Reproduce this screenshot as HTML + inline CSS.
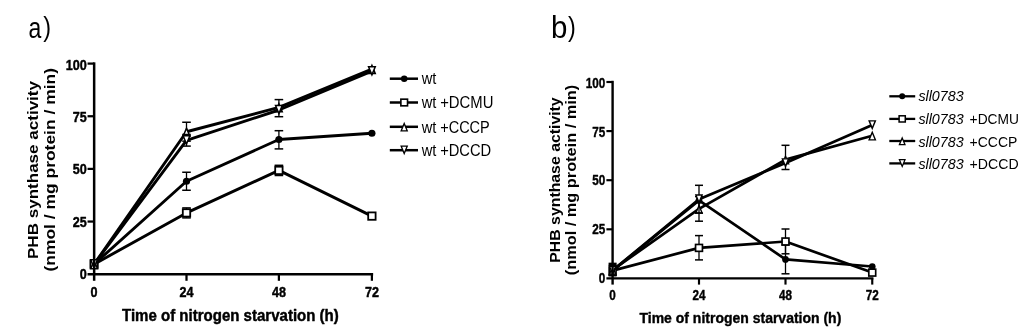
<!DOCTYPE html>
<html lang="en">
<head>
<meta charset="utf-8">
<title>PHB synthase activity</title>
<style>
html,body{margin:0;padding:0;background:#fff;}
body{width:1024px;height:336px;overflow:hidden;}
svg{display:block;}
svg text{font-family:"Liberation Sans", Arial, Helvetica, sans-serif;fill:#000;}
</style>
</head>
<body>
<svg width="1024" height="336" viewBox="0 0 1024 336">
<rect x="0" y="0" width="1024" height="336" fill="#fff"/>
<g id="panel-a">
<g><line x1="186.5" y1="172.25" x2="186.5" y2="190.25" stroke="#000" stroke-width="1.3" stroke-linecap="butt"/><line x1="182.2" y1="172.25" x2="190.8" y2="172.25" stroke="#000" stroke-width="1.5" stroke-linecap="butt"/><line x1="182.2" y1="190.25" x2="190.8" y2="190.25" stroke="#000" stroke-width="1.5" stroke-linecap="butt"/><line x1="278.9" y1="130.7" x2="278.9" y2="148.9" stroke="#000" stroke-width="1.3" stroke-linecap="butt"/><line x1="274.59999999999997" y1="130.7" x2="283.2" y2="130.7" stroke="#000" stroke-width="1.5" stroke-linecap="butt"/><line x1="274.59999999999997" y1="148.9" x2="283.2" y2="148.9" stroke="#000" stroke-width="1.5" stroke-linecap="butt"/><polyline points="94.1,264.2 186.5,181.25 278.9,139.5 371.9,133.25" fill="none" stroke="#000" stroke-width="2.9" stroke-linejoin="round"/><circle cx="94.1" cy="264.2" r="3.60" fill="#000"/><circle cx="186.5" cy="181.25" r="3.60" fill="#000"/><circle cx="278.9" cy="139.5" r="3.60" fill="#000"/><circle cx="371.9" cy="133.25" r="3.60" fill="#000"/></g>
<g><line x1="186.5" y1="207.9" x2="186.5" y2="217.9" stroke="#000" stroke-width="1.3" stroke-linecap="butt"/><line x1="182.2" y1="207.9" x2="190.8" y2="207.9" stroke="#000" stroke-width="1.5" stroke-linecap="butt"/><line x1="182.2" y1="217.9" x2="190.8" y2="217.9" stroke="#000" stroke-width="1.5" stroke-linecap="butt"/><line x1="278.9" y1="165.3" x2="278.9" y2="175.5" stroke="#000" stroke-width="1.3" stroke-linecap="butt"/><line x1="274.59999999999997" y1="165.3" x2="283.2" y2="165.3" stroke="#000" stroke-width="1.5" stroke-linecap="butt"/><line x1="274.59999999999997" y1="175.5" x2="283.2" y2="175.5" stroke="#000" stroke-width="1.5" stroke-linecap="butt"/><polyline points="94.1,264.2 186.5,212.9 278.9,170.4 371.9,216.1" fill="none" stroke="#000" stroke-width="2.9" stroke-linejoin="round"/><rect x="90.40" y="260.50" width="7.40" height="7.40" fill="#fff" stroke="#000" stroke-width="1.80"/><rect x="182.80" y="209.20" width="7.40" height="7.40" fill="#fff" stroke="#000" stroke-width="1.80"/><rect x="275.20" y="166.70" width="7.40" height="7.40" fill="#fff" stroke="#000" stroke-width="1.80"/><rect x="368.20" y="212.40" width="7.40" height="7.40" fill="#fff" stroke="#000" stroke-width="1.80"/></g>
<g><line x1="186.5" y1="122.25" x2="186.5" y2="141.15" stroke="#000" stroke-width="1.3" stroke-linecap="butt"/><line x1="182.2" y1="122.25" x2="190.8" y2="122.25" stroke="#000" stroke-width="1.5" stroke-linecap="butt"/><line x1="182.2" y1="141.15" x2="190.8" y2="141.15" stroke="#000" stroke-width="1.5" stroke-linecap="butt"/><line x1="278.9" y1="99.60000000000001" x2="278.9" y2="116.7" stroke="#000" stroke-width="1.3" stroke-linecap="butt"/><line x1="274.59999999999997" y1="99.60000000000001" x2="283.2" y2="99.60000000000001" stroke="#000" stroke-width="1.5" stroke-linecap="butt"/><line x1="274.59999999999997" y1="116.7" x2="283.2" y2="116.7" stroke="#000" stroke-width="1.5" stroke-linecap="butt"/><polyline points="94.1,264.2 186.5,131.75 278.9,107.4 371.9,69.0" fill="none" stroke="#000" stroke-width="2.9" stroke-linejoin="round"/><polygon points="94.10,260.55 97.45,268.65 90.75,268.65" fill="#fff" stroke="#000" stroke-width="1.50" stroke-linejoin="miter"/><polygon points="186.50,128.10 189.85,136.20 183.15,136.20" fill="#fff" stroke="#000" stroke-width="1.50" stroke-linejoin="miter"/><polygon points="278.90,103.75 282.25,111.85 275.55,111.85" fill="#fff" stroke="#000" stroke-width="1.50" stroke-linejoin="miter"/><polygon points="371.90,65.35 375.25,73.45 368.55,73.45" fill="#fff" stroke="#000" stroke-width="1.50" stroke-linejoin="miter"/></g>
<g><line x1="186.5" y1="134.5" x2="186.5" y2="146.10000000000002" stroke="#000" stroke-width="1.3" stroke-linecap="butt"/><line x1="182.2" y1="134.5" x2="190.8" y2="134.5" stroke="#000" stroke-width="1.5" stroke-linecap="butt"/><line x1="182.2" y1="146.10000000000002" x2="190.8" y2="146.10000000000002" stroke="#000" stroke-width="1.5" stroke-linecap="butt"/><polyline points="94.1,264.2 186.5,140.3 278.9,110.0 371.9,71.2" fill="none" stroke="#000" stroke-width="2.9" stroke-linejoin="round"/><polygon points="94.10,267.85 97.45,259.75 90.75,259.75" fill="#fff" stroke="#000" stroke-width="1.50" stroke-linejoin="miter"/><polygon points="186.50,143.95 189.85,135.85 183.15,135.85" fill="#fff" stroke="#000" stroke-width="1.50" stroke-linejoin="miter"/><polygon points="278.90,113.65 282.25,105.55 275.55,105.55" fill="#fff" stroke="#000" stroke-width="1.50" stroke-linejoin="miter"/><polygon points="371.90,74.85 375.25,66.75 368.55,66.75" fill="#fff" stroke="#000" stroke-width="1.50" stroke-linejoin="miter"/></g>
<line x1="94.15" y1="62.35" x2="94.15" y2="280.8" stroke="#000" stroke-width="2.5" stroke-linecap="butt"/>
<line x1="87.55000000000001" y1="274.2" x2="373.15" y2="274.2" stroke="#000" stroke-width="2.5" stroke-linecap="butt"/>
<line x1="87.55000000000001" y1="63.599999999999994" x2="94.15" y2="63.599999999999994" stroke="#000" stroke-width="2.25" stroke-linecap="butt"/>
<text x="86.8" y="69.55" font-size="15.1" font-weight="bold" text-anchor="end" textLength="21.0" lengthAdjust="spacingAndGlyphs" stroke="#000" stroke-width="0.45" stroke-linejoin="round">100</text>
<line x1="87.55000000000001" y1="116.25" x2="94.15" y2="116.25" stroke="#000" stroke-width="2.25" stroke-linecap="butt"/>
<text x="86.8" y="121.88" font-size="15.1" font-weight="bold" text-anchor="end" textLength="14.0" lengthAdjust="spacingAndGlyphs" stroke="#000" stroke-width="0.45" stroke-linejoin="round">75</text>
<line x1="87.55000000000001" y1="168.89999999999998" x2="94.15" y2="168.89999999999998" stroke="#000" stroke-width="2.25" stroke-linecap="butt"/>
<text x="86.8" y="174.2" font-size="15.1" font-weight="bold" text-anchor="end" textLength="14.0" lengthAdjust="spacingAndGlyphs" stroke="#000" stroke-width="0.45" stroke-linejoin="round">50</text>
<line x1="87.55000000000001" y1="221.54999999999998" x2="94.15" y2="221.54999999999998" stroke="#000" stroke-width="2.25" stroke-linecap="butt"/>
<text x="86.8" y="226.52" font-size="15.1" font-weight="bold" text-anchor="end" textLength="14.0" lengthAdjust="spacingAndGlyphs" stroke="#000" stroke-width="0.45" stroke-linejoin="round">25</text>
<text x="86.8" y="278.85" font-size="15.1" font-weight="bold" text-anchor="end" textLength="7.0" lengthAdjust="spacingAndGlyphs" stroke="#000" stroke-width="0.45" stroke-linejoin="round">0</text>
<text x="94.1" y="297.0" font-size="15.1" font-weight="bold" text-anchor="middle" textLength="7.0" lengthAdjust="spacingAndGlyphs" stroke="#000" stroke-width="0.45" stroke-linejoin="round">0</text>
<line x1="186.5" y1="274.2" x2="186.5" y2="280.8" stroke="#000" stroke-width="2.25" stroke-linecap="butt"/>
<text x="186.5" y="297.0" font-size="15.1" font-weight="bold" text-anchor="middle" textLength="14.0" lengthAdjust="spacingAndGlyphs" stroke="#000" stroke-width="0.45" stroke-linejoin="round">24</text>
<line x1="278.9" y1="274.2" x2="278.9" y2="280.8" stroke="#000" stroke-width="2.25" stroke-linecap="butt"/>
<text x="278.9" y="297.0" font-size="15.1" font-weight="bold" text-anchor="middle" textLength="14.0" lengthAdjust="spacingAndGlyphs" stroke="#000" stroke-width="0.45" stroke-linejoin="round">48</text>
<line x1="371.9" y1="274.2" x2="371.9" y2="280.8" stroke="#000" stroke-width="2.25" stroke-linecap="butt"/>
<text x="371.9" y="297.0" font-size="15.1" font-weight="bold" text-anchor="middle" textLength="14.0" lengthAdjust="spacingAndGlyphs" stroke="#000" stroke-width="0.45" stroke-linejoin="round">72</text>
<text x="122.0" y="321.0" font-size="16.4" font-weight="bold" text-anchor="start" textLength="216.8" lengthAdjust="spacingAndGlyphs" stroke="#000" stroke-width="0.45" stroke-linejoin="round">Time of nitrogen starvation (h)</text>
<text x="37.5" y="259.0" font-size="14.9" font-weight="bold" text-anchor="start" textLength="178.0" lengthAdjust="spacingAndGlyphs" transform="rotate(-90 37.5 259.0)">PHB synthase activity</text>
<text x="55.2" y="271.5" font-size="14.9" font-weight="bold" text-anchor="start" textLength="203.5" lengthAdjust="spacingAndGlyphs" transform="rotate(-90 55.2 271.5)">(nmol / mg protein / min)</text>
<line x1="389.8" y1="78.7" x2="418.0" y2="78.7" stroke="#000" stroke-width="2.5" stroke-linecap="butt"/>
<circle cx="404.2" cy="78.7" r="3.24" fill="#000"/>
<text x="421.8" y="84.3" font-size="16" textLength="14.6" lengthAdjust="spacingAndGlyphs">wt</text>
<line x1="389.8" y1="102.5" x2="418.0" y2="102.5" stroke="#000" stroke-width="2.5" stroke-linecap="butt"/>
<rect x="400.87" y="99.17" width="6.66" height="6.66" fill="#fff" stroke="#000" stroke-width="1.62"/>
<text x="421.8" y="108.3" font-size="16" textLength="14.6" lengthAdjust="spacingAndGlyphs">wt</text>
<text x="440.2" y="108.3" font-size="16" textLength="53.2" lengthAdjust="spacingAndGlyphs">+DCMU</text>
<line x1="389.8" y1="126.8" x2="418.0" y2="126.8" stroke="#000" stroke-width="2.5" stroke-linecap="butt"/>
<polygon points="404.20,123.52 407.21,130.81 401.19,130.81" fill="#fff" stroke="#000" stroke-width="1.35" stroke-linejoin="miter"/>
<text x="421.8" y="132.5" font-size="16" textLength="14.6" lengthAdjust="spacingAndGlyphs">wt</text>
<text x="440.2" y="132.5" font-size="16" textLength="49.6" lengthAdjust="spacingAndGlyphs">+CCCP</text>
<line x1="389.8" y1="150.2" x2="418.0" y2="150.2" stroke="#000" stroke-width="2.5" stroke-linecap="butt"/>
<polygon points="404.20,153.48 407.21,146.19 401.19,146.19" fill="#fff" stroke="#000" stroke-width="1.35" stroke-linejoin="miter"/>
<text x="421.8" y="156.3" font-size="16" textLength="14.6" lengthAdjust="spacingAndGlyphs">wt</text>
<text x="440.2" y="156.3" font-size="16" textLength="51.0" lengthAdjust="spacingAndGlyphs">+DCCD</text>
<text transform="translate(28.4 38.0) scale(0.78 1)" font-size="29.5" stroke="#000" stroke-width="0">a</text>
<text transform="translate(43.3 36.0) scale(0.85 1)" font-size="27.6" stroke="#000" stroke-width="0">)</text>
</g>
<g id="panel-b">
<g><line x1="612.6" y1="265.6" x2="612.6" y2="275.1" stroke="#000" stroke-width="1.3" stroke-linecap="butt"/><line x1="608.601" y1="265.6" x2="616.599" y2="265.6" stroke="#000" stroke-width="1.5" stroke-linecap="butt"/><line x1="608.601" y1="275.1" x2="616.599" y2="275.1" stroke="#000" stroke-width="1.5" stroke-linecap="butt"/><line x1="785.5" y1="244.99999999999997" x2="785.5" y2="273.79999999999995" stroke="#000" stroke-width="1.3" stroke-linecap="butt"/><line x1="781.501" y1="244.99999999999997" x2="789.499" y2="244.99999999999997" stroke="#000" stroke-width="1.5" stroke-linecap="butt"/><line x1="781.501" y1="273.79999999999995" x2="789.499" y2="273.79999999999995" stroke="#000" stroke-width="1.5" stroke-linecap="butt"/><polyline points="612.6,270.6 699.0,200.4 785.5,259.4 872.25,266.5" fill="none" stroke="#000" stroke-width="2.7" stroke-linejoin="round"/><circle cx="612.6" cy="270.6" r="3.35" fill="#000"/><circle cx="699.0" cy="200.4" r="3.35" fill="#000"/><circle cx="785.5" cy="259.4" r="3.35" fill="#000"/><circle cx="872.25" cy="266.5" r="3.35" fill="#000"/></g>
<g><line x1="612.6" y1="264.6" x2="612.6" y2="275.6" stroke="#000" stroke-width="1.3" stroke-linecap="butt"/><line x1="608.601" y1="264.6" x2="616.599" y2="264.6" stroke="#000" stroke-width="1.5" stroke-linecap="butt"/><line x1="608.601" y1="275.6" x2="616.599" y2="275.6" stroke="#000" stroke-width="1.5" stroke-linecap="butt"/><line x1="699.0" y1="235.6" x2="699.0" y2="259.9" stroke="#000" stroke-width="1.3" stroke-linecap="butt"/><line x1="695.001" y1="235.6" x2="702.999" y2="235.6" stroke="#000" stroke-width="1.5" stroke-linecap="butt"/><line x1="695.001" y1="259.9" x2="702.999" y2="259.9" stroke="#000" stroke-width="1.5" stroke-linecap="butt"/><line x1="785.5" y1="229.0" x2="785.5" y2="253.8" stroke="#000" stroke-width="1.3" stroke-linecap="butt"/><line x1="781.501" y1="229.0" x2="789.499" y2="229.0" stroke="#000" stroke-width="1.5" stroke-linecap="butt"/><line x1="781.501" y1="253.8" x2="789.499" y2="253.8" stroke="#000" stroke-width="1.5" stroke-linecap="butt"/><polyline points="612.6,270.6 699.0,247.9 785.5,241.5 872.25,272.6" fill="none" stroke="#000" stroke-width="2.7" stroke-linejoin="round"/><rect x="609.16" y="267.16" width="6.88" height="6.88" fill="#fff" stroke="#000" stroke-width="1.67"/><rect x="695.56" y="244.46" width="6.88" height="6.88" fill="#fff" stroke="#000" stroke-width="1.67"/><rect x="782.06" y="238.06" width="6.88" height="6.88" fill="#fff" stroke="#000" stroke-width="1.67"/><rect x="868.81" y="269.16" width="6.88" height="6.88" fill="#fff" stroke="#000" stroke-width="1.67"/></g>
<g><line x1="699.0" y1="196.6" x2="699.0" y2="221.20000000000002" stroke="#000" stroke-width="1.3" stroke-linecap="butt"/><line x1="695.001" y1="196.6" x2="702.999" y2="196.6" stroke="#000" stroke-width="1.5" stroke-linecap="butt"/><line x1="695.001" y1="221.20000000000002" x2="702.999" y2="221.20000000000002" stroke="#000" stroke-width="1.5" stroke-linecap="butt"/><line x1="785.5" y1="145.29999999999998" x2="785.5" y2="169.5" stroke="#000" stroke-width="1.3" stroke-linecap="butt"/><line x1="781.501" y1="145.29999999999998" x2="789.499" y2="145.29999999999998" stroke="#000" stroke-width="1.5" stroke-linecap="butt"/><line x1="781.501" y1="169.5" x2="789.499" y2="169.5" stroke="#000" stroke-width="1.5" stroke-linecap="butt"/><polyline points="612.6,270.0 699.0,208.9 785.5,159.6 872.25,135.7" fill="none" stroke="#000" stroke-width="2.7" stroke-linejoin="round"/><polygon points="612.60,266.61 615.72,274.14 609.48,274.14" fill="#fff" stroke="#000" stroke-width="1.40" stroke-linejoin="miter"/><polygon points="699.00,205.51 702.12,213.04 695.88,213.04" fill="#fff" stroke="#000" stroke-width="1.40" stroke-linejoin="miter"/><polygon points="785.50,156.21 788.62,163.74 782.38,163.74" fill="#fff" stroke="#000" stroke-width="1.40" stroke-linejoin="miter"/><polygon points="872.25,132.31 875.37,139.84 869.13,139.84" fill="#fff" stroke="#000" stroke-width="1.40" stroke-linejoin="miter"/></g>
<g><line x1="612.6" y1="263.4" x2="612.6" y2="275.4" stroke="#000" stroke-width="1.3" stroke-linecap="butt"/><line x1="608.601" y1="263.4" x2="616.599" y2="263.4" stroke="#000" stroke-width="1.5" stroke-linecap="butt"/><line x1="608.601" y1="275.4" x2="616.599" y2="275.4" stroke="#000" stroke-width="1.5" stroke-linecap="butt"/><line x1="699.0" y1="185.29999999999998" x2="699.0" y2="213.1" stroke="#000" stroke-width="1.3" stroke-linecap="butt"/><line x1="695.001" y1="185.29999999999998" x2="702.999" y2="185.29999999999998" stroke="#000" stroke-width="1.5" stroke-linecap="butt"/><line x1="695.001" y1="213.1" x2="702.999" y2="213.1" stroke="#000" stroke-width="1.5" stroke-linecap="butt"/><polyline points="612.6,270.4 699.0,199.2 785.5,163.0 872.25,125.0" fill="none" stroke="#000" stroke-width="2.7" stroke-linejoin="round"/><polygon points="612.60,273.79 615.72,266.26 609.48,266.26" fill="#fff" stroke="#000" stroke-width="1.40" stroke-linejoin="miter"/><polygon points="699.00,202.59 702.12,195.06 695.88,195.06" fill="#fff" stroke="#000" stroke-width="1.40" stroke-linejoin="miter"/><polygon points="785.50,166.39 788.62,158.86 782.38,158.86" fill="#fff" stroke="#000" stroke-width="1.40" stroke-linejoin="miter"/><polygon points="872.25,128.39 875.37,120.86 869.13,120.86" fill="#fff" stroke="#000" stroke-width="1.40" stroke-linejoin="miter"/></g>
<line x1="612.6" y1="80.8" x2="612.6" y2="284.59999999999997" stroke="#000" stroke-width="2.4" stroke-linecap="butt"/>
<line x1="606.4" y1="278.4" x2="873.45" y2="278.4" stroke="#000" stroke-width="2.4" stroke-linecap="butt"/>
<line x1="606.4" y1="82.0" x2="612.6" y2="82.0" stroke="#000" stroke-width="2.16" stroke-linecap="butt"/>
<text x="605.3" y="87.6" font-size="14.2" font-weight="bold" text-anchor="end" textLength="19.5" lengthAdjust="spacingAndGlyphs" stroke="#000" stroke-width="0.4" stroke-linejoin="round">100</text>
<line x1="606.4" y1="131.1" x2="612.6" y2="131.1" stroke="#000" stroke-width="2.16" stroke-linecap="butt"/>
<text x="605.3" y="136.5" font-size="14.2" font-weight="bold" text-anchor="end" textLength="13.0" lengthAdjust="spacingAndGlyphs" stroke="#000" stroke-width="0.4" stroke-linejoin="round">75</text>
<line x1="606.4" y1="180.2" x2="612.6" y2="180.2" stroke="#000" stroke-width="2.16" stroke-linecap="butt"/>
<text x="605.3" y="185.4" font-size="14.2" font-weight="bold" text-anchor="end" textLength="13.0" lengthAdjust="spacingAndGlyphs" stroke="#000" stroke-width="0.4" stroke-linejoin="round">50</text>
<line x1="606.4" y1="229.29999999999998" x2="612.6" y2="229.29999999999998" stroke="#000" stroke-width="2.16" stroke-linecap="butt"/>
<text x="605.3" y="234.3" font-size="14.2" font-weight="bold" text-anchor="end" textLength="13.0" lengthAdjust="spacingAndGlyphs" stroke="#000" stroke-width="0.4" stroke-linejoin="round">25</text>
<text x="605.3" y="283.2" font-size="14.2" font-weight="bold" text-anchor="end" textLength="6.5" lengthAdjust="spacingAndGlyphs" stroke="#000" stroke-width="0.4" stroke-linejoin="round">0</text>
<text x="612.6" y="300.4" font-size="14.2" font-weight="bold" text-anchor="middle" textLength="6.5" lengthAdjust="spacingAndGlyphs" stroke="#000" stroke-width="0.4" stroke-linejoin="round">0</text>
<line x1="699.0" y1="278.4" x2="699.0" y2="284.59999999999997" stroke="#000" stroke-width="2.16" stroke-linecap="butt"/>
<text x="699.0" y="300.4" font-size="14.2" font-weight="bold" text-anchor="middle" textLength="13.0" lengthAdjust="spacingAndGlyphs" stroke="#000" stroke-width="0.4" stroke-linejoin="round">24</text>
<line x1="785.5" y1="278.4" x2="785.5" y2="284.59999999999997" stroke="#000" stroke-width="2.16" stroke-linecap="butt"/>
<text x="785.5" y="300.4" font-size="14.2" font-weight="bold" text-anchor="middle" textLength="13.0" lengthAdjust="spacingAndGlyphs" stroke="#000" stroke-width="0.4" stroke-linejoin="round">48</text>
<line x1="872.25" y1="278.4" x2="872.25" y2="284.59999999999997" stroke="#000" stroke-width="2.16" stroke-linecap="butt"/>
<text x="872.25" y="300.4" font-size="14.2" font-weight="bold" text-anchor="middle" textLength="13.0" lengthAdjust="spacingAndGlyphs" stroke="#000" stroke-width="0.4" stroke-linejoin="round">72</text>
<text x="639.5" y="322.5" font-size="15.3" font-weight="bold" text-anchor="start" textLength="201.8" lengthAdjust="spacingAndGlyphs" stroke="#000" stroke-width="0.4" stroke-linejoin="round">Time of nitrogen starvation (h)</text>
<text x="559.9" y="262.7" font-size="13.8" font-weight="bold" text-anchor="start" textLength="165.4" lengthAdjust="spacingAndGlyphs" transform="rotate(-90 559.9 262.7)">PHB synthase activity</text>
<text x="575.9" y="275.2" font-size="13.8" font-weight="bold" text-anchor="start" textLength="190.4" lengthAdjust="spacingAndGlyphs" transform="rotate(-90 575.9 275.2)">(nmol / mg protein / min)</text>
<line x1="889.3" y1="96.3" x2="915.2" y2="96.3" stroke="#000" stroke-width="2.3" stroke-linecap="butt"/>
<circle cx="902.2" cy="96.3" r="3.01" fill="#000"/>
<text x="918.4" y="101.4" font-size="14.6" font-style="italic" textLength="45.2" lengthAdjust="spacingAndGlyphs">sll0783</text>
<line x1="889.3" y1="118.9" x2="915.2" y2="118.9" stroke="#000" stroke-width="2.3" stroke-linecap="butt"/>
<rect x="899.10" y="115.80" width="6.19" height="6.19" fill="#fff" stroke="#000" stroke-width="1.51"/>
<text x="918.4" y="124.0" font-size="14.6" font-style="italic" textLength="45.2" lengthAdjust="spacingAndGlyphs">sll0783</text>
<text x="969.6" y="124.0" font-size="14.6" textLength="49.4" lengthAdjust="spacingAndGlyphs">+DCMU</text>
<line x1="889.3" y1="141.0" x2="915.2" y2="141.0" stroke="#000" stroke-width="2.3" stroke-linecap="butt"/>
<polygon points="902.20,137.94 905.00,144.72 899.40,144.72" fill="#fff" stroke="#000" stroke-width="1.26" stroke-linejoin="miter"/>
<text x="918.4" y="146.6" font-size="14.6" font-style="italic" textLength="45.2" lengthAdjust="spacingAndGlyphs">sll0783</text>
<text x="969.6" y="146.6" font-size="14.6" textLength="47.8" lengthAdjust="spacingAndGlyphs">+CCCP</text>
<line x1="889.3" y1="163.4" x2="915.2" y2="163.4" stroke="#000" stroke-width="2.3" stroke-linecap="butt"/>
<polygon points="902.20,166.46 905.00,159.68 899.40,159.68" fill="#fff" stroke="#000" stroke-width="1.26" stroke-linejoin="miter"/>
<text x="918.4" y="168.9" font-size="14.6" font-style="italic" textLength="45.2" lengthAdjust="spacingAndGlyphs">sll0783</text>
<text x="969.6" y="168.9" font-size="14.6" textLength="49.0" lengthAdjust="spacingAndGlyphs">+DCCD</text>
<text transform="translate(551.0 38.0) scale(0.93 1)" font-size="31.7" stroke="#000" stroke-width="0">b</text>
<text transform="translate(567.9 36.0) scale(0.85 1)" font-size="27.6" stroke="#000" stroke-width="0">)</text>
</g>
</svg>
</body>
</html>
